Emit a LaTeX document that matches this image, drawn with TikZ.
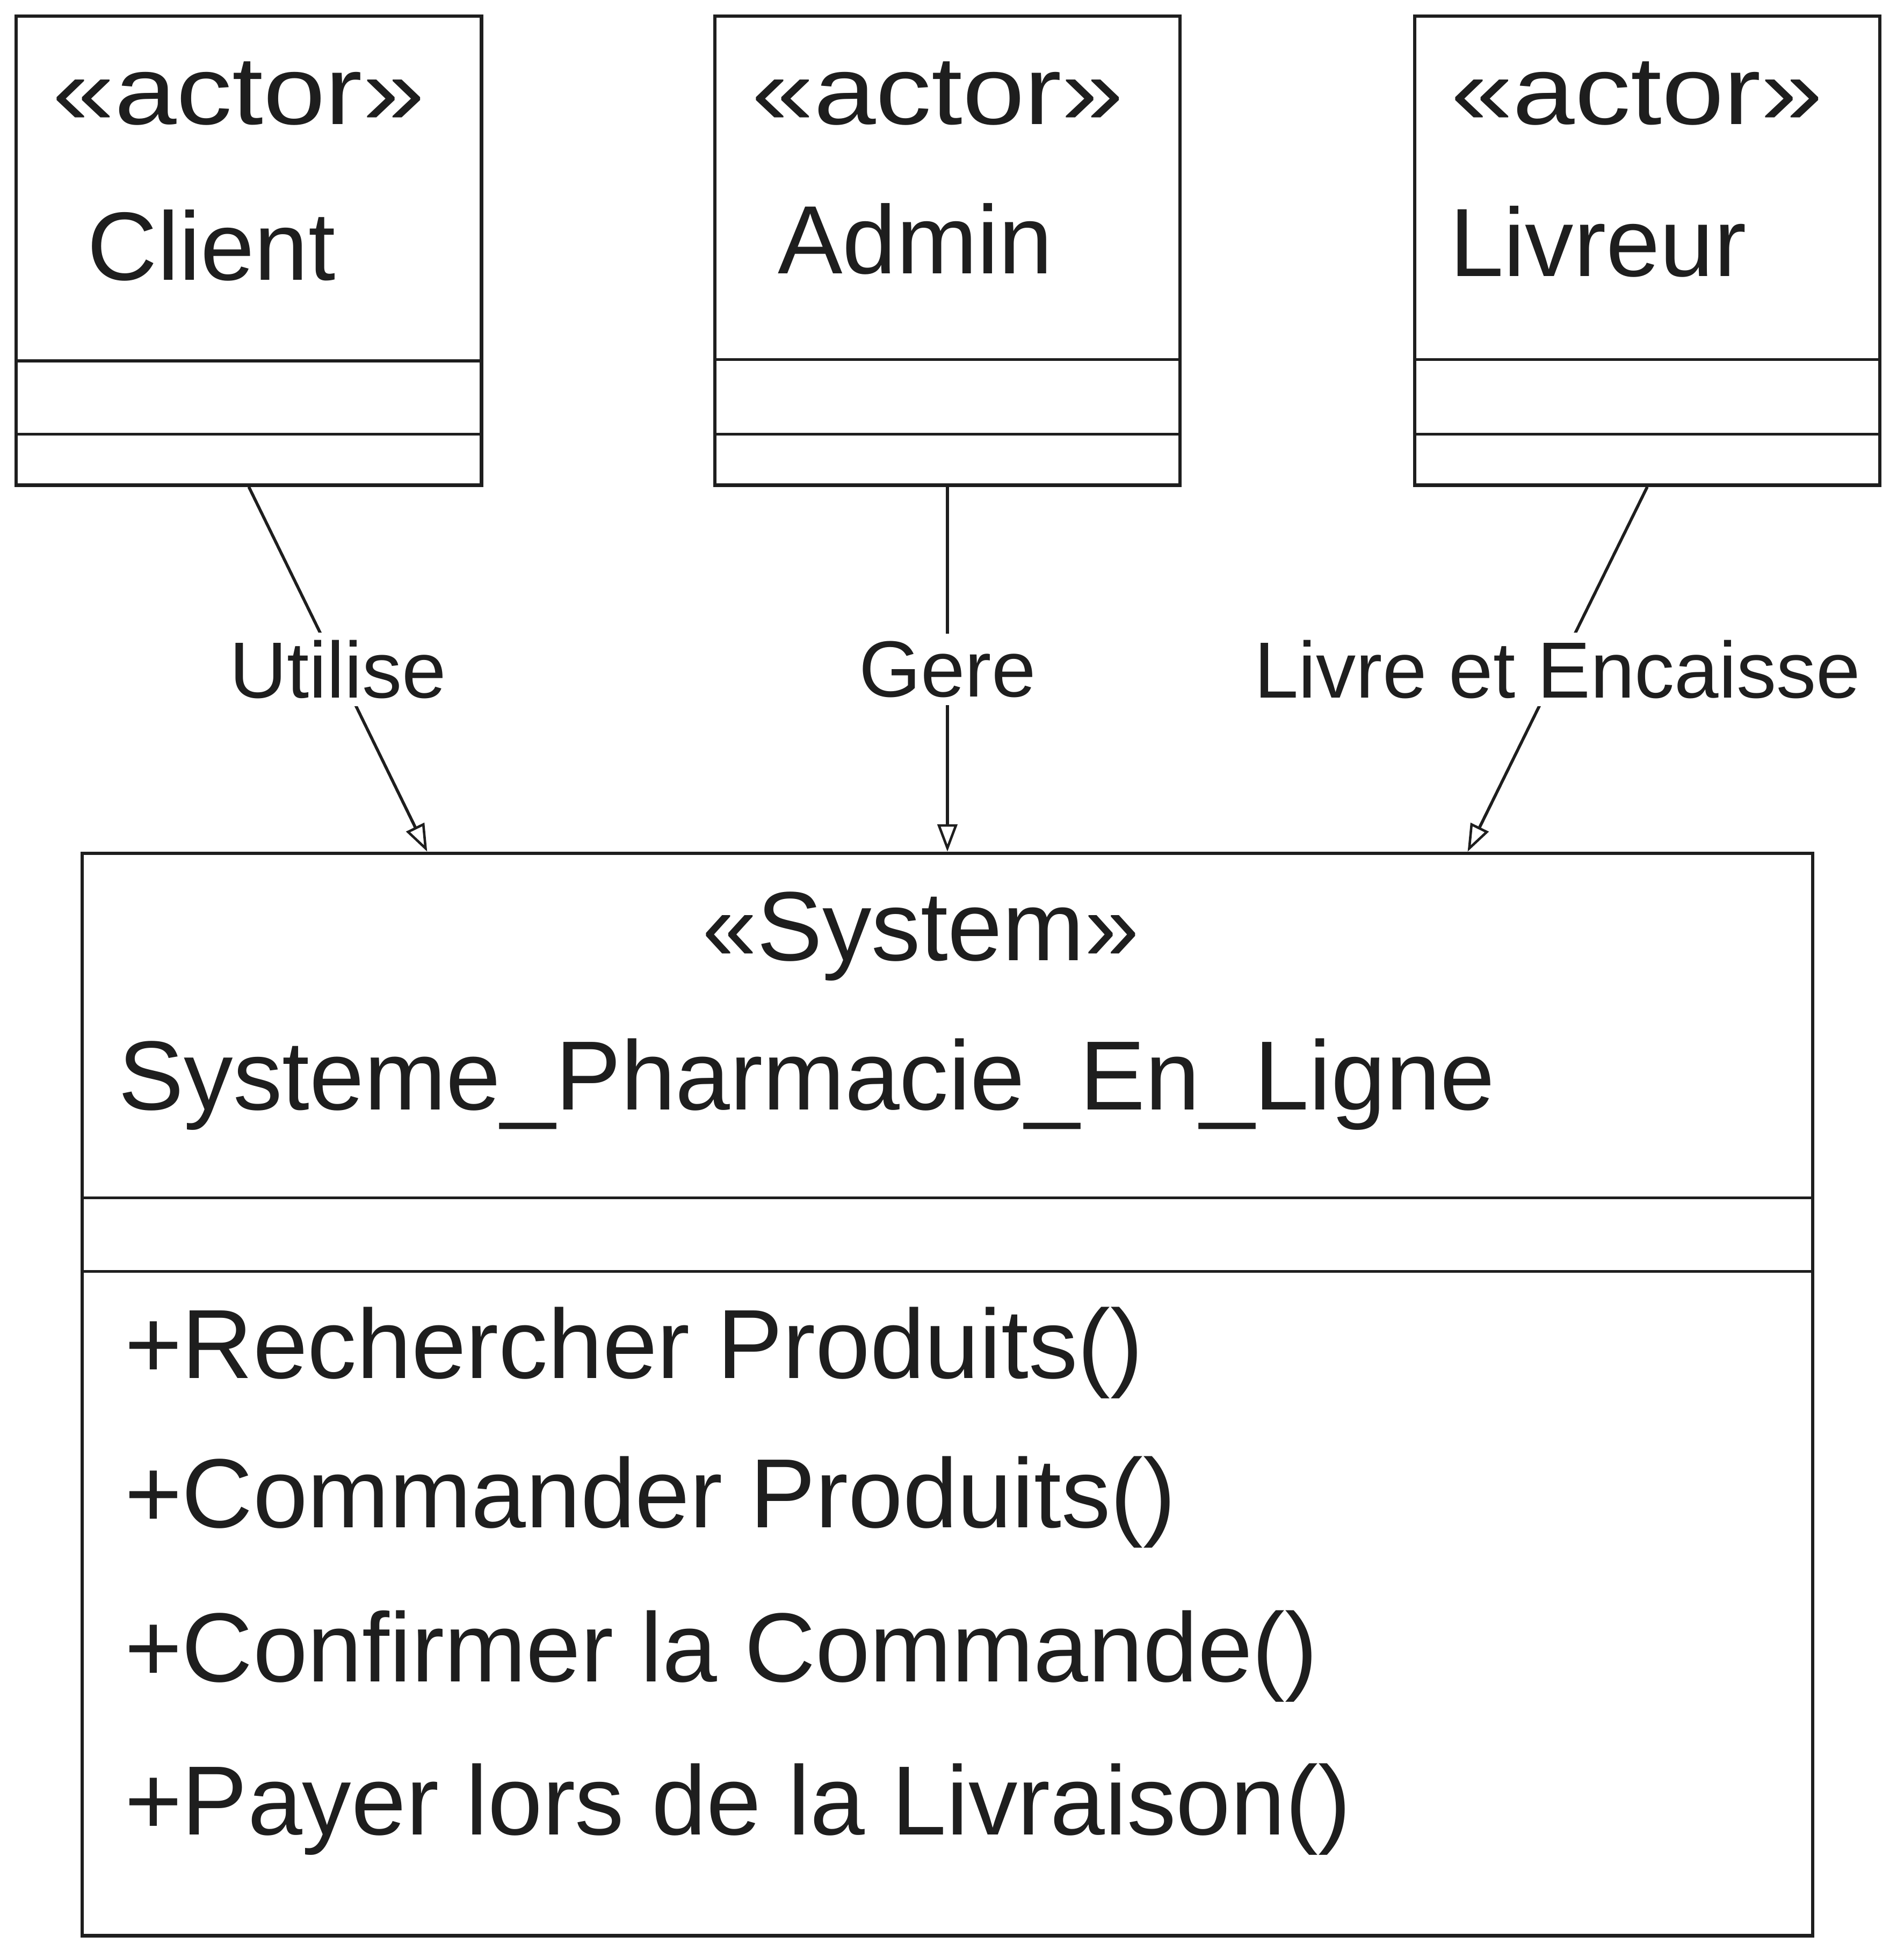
\documentclass[tikz,border=0pt]{standalone}
\usepackage{fontspec}
\setmainfont{Liberation Sans}
\newfontfamily\widefont[FakeStretch=1.15]{Liberation Sans}
\usetikzlibrary{arrows.meta,calc}
\definecolor{ink}{RGB}{30,30,30}
\begin{document}
\begin{tikzpicture}[x=1pt,y=-1pt,
  actorbox/.style={draw=ink, line width=2.8pt, minimum width=374pt, minimum height=377pt, inner sep=0pt},
  sysbox/.style={draw=ink, line width=2.8pt, minimum width=1391pt, minimum height=870pt, inner sep=0pt},
  divline/.style={draw=ink, line width=2.4pt},
  conn/.style={draw=ink, line width=2.4pt, -{Triangle[open, length=22pt, width=16pt, line width=2pt]}},
  lbl/.style={fill=white, inner sep=6pt, text=ink, font=\fontsize{64}{72}\selectfont},
  acttxt/.style={anchor=base west, inner sep=0pt, text=ink, font=\fontsize{78}{90}\selectfont},
  sttxt/.style={anchor=base west, inner sep=0pt, text=ink, font=\widefont\fontsize{78}{90}\selectfont},
  bigtxt/.style={anchor=base west, inner sep=0pt, text=ink, font=\fontsize{79}{90}\selectfont}
]
\useasboundingbox (0,0) rectangle (1530,1574);

% actor boxes
\node[actorbox] (client) at (200,201.5) {};
\node[actorbox] (admin) at (761.5,201.5) {};
\node[actorbox] (livreur) at (1324,201.5) {};

\draw[divline] (client.west |- 0,290) -- (client.east |- 0,290);
\draw[divline] (client.west |- 0,349) -- (client.east |- 0,349);
\draw[divline] (admin.west |- 0,289) -- (admin.east |- 0,289);
\draw[divline] (admin.west |- 0,349) -- (admin.east |- 0,349);
\draw[divline] (livreur.west |- 0,289) -- (livreur.east |- 0,289);
\draw[divline] (livreur.west |- 0,349) -- (livreur.east |- 0,349);

\node[sttxt] (clientSt) at (42,100) {«actor»};
\node[acttxt] (clientNm) at (70,225) {Client};
\node[sttxt] (adminSt) at (604,100) {«actor»};
\node[acttxt] (adminNm) at (625,220) {Admin};
\node[sttxt] (livreurSt) at (1166,100) {«actor»};
\node[acttxt] (livreurNm) at (1165,222) {Livreur};

% system box
\node[sysbox] (sys) at (761.5,1121) {};
\draw[divline] (sys.west |- 0,963) -- (sys.east |- 0,963);
\draw[divline] (sys.west |- 0,1022) -- (sys.east |- 0,1022);

\node[bigtxt, anchor=base] (sysSt) at (740,772) {«System»};
\node[bigtxt] (sysNm) at (95,892) {Systeme\_Pharmacie\_En\_Ligne};
\node[bigtxt] (m1) at (100,1108) {+Rechercher Produits()};
\node[bigtxt] (m2) at (100,1228) {+Commander Produits()};
\node[bigtxt] (m3) at (100,1352) {+Confirmer la Commande()};
\node[bigtxt] (m4) at (100,1475) {+Payer lors de la Livraison()};

% connector ends
\coordinate (sysU) at ($(sys.north west)!0.2!(sys.north east)$);
\coordinate (sysG) at (sys.north);
\coordinate (sysL) at ($(sys.north west)!0.8!(sys.north east)$);

\draw[conn] (client.south) -- node[lbl] (lblU) {Utilise} (sysU);
\draw[conn] (admin.south) -- node[lbl] (lblG) {Gere} (sysG);
\draw[conn] (livreur.south) -- node[lbl] (lblL) {Livre et Encaisse} (sysL);
\end{tikzpicture}
\end{document}
